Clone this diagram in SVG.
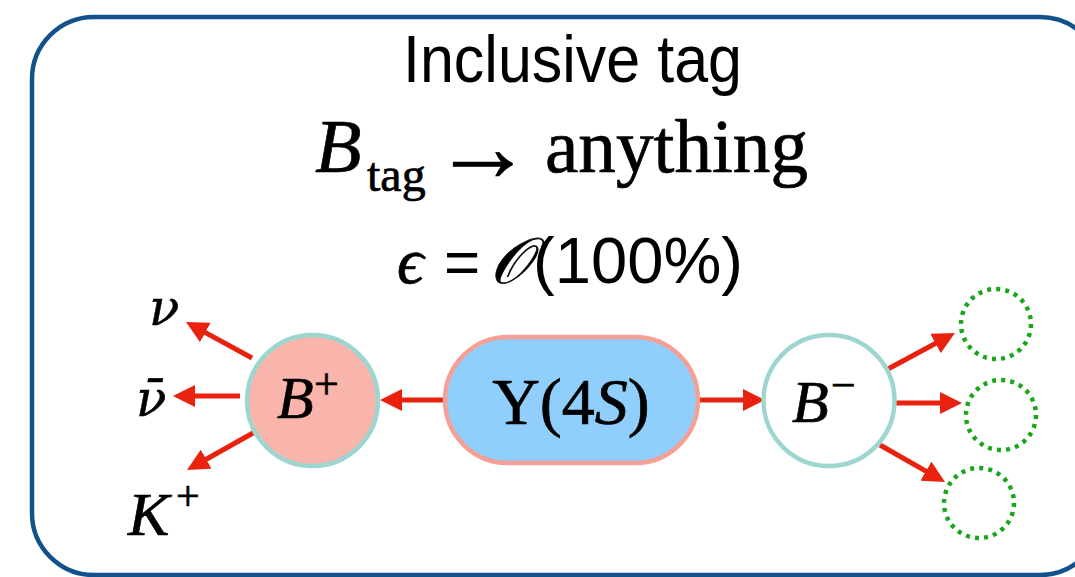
<svg xmlns="http://www.w3.org/2000/svg" width="1075" height="577" viewBox="0 0 1075 577">
  <defs>
    <marker id="ah" markerUnits="userSpaceOnUse" markerWidth="22" markerHeight="22" refX="4" refY="11" orient="auto">
      <path d="M0,0 L22,11 L0,22 Z" fill="#e8220f"/>
    </marker>
    <style>
      .serif { font-family: "Liberation Serif", "DejaVu Serif", serif; fill: #000; stroke: #000; stroke-width: 0.7; }
      .greek { font-family: "DejaVu Serif", "Liberation Serif", serif; fill: #000; stroke: #000; stroke-width: 0.5; }
      .sans { font-family: "Liberation Sans", "DejaVu Sans", sans-serif; fill: #000; }
      .it { font-style: italic; }
      .conn { stroke: #e8220f; stroke-width: 5; fill: none; marker-end: url(#ah); }
      .teal { stroke: #9dd6d0; stroke-width: 4.5; }
      .dotted { fill: none; stroke: #19a619; stroke-width: 4.5; stroke-dasharray: 4 5.16; }
    </style>
  </defs>
  <rect width="1075" height="577" fill="#fff"/>
  <g id="frame">
    <rect x="32" y="17" width="1070" height="558" rx="62" ry="62" fill="none" stroke="#11528a" stroke-width="4.5"/>
  </g>
  <g id="title">
    <text class="sans" x="403" y="82" font-size="66" textLength="339" lengthAdjust="spacingAndGlyphs">Inclusive tag</text>
    <text class="serif it" x="315" y="172" font-size="76">B</text>
    <text class="serif" x="367" y="191" font-size="48">tag</text>
    <text class="serif" x="483" y="181" font-size="100" text-anchor="middle">→</text>
    <text class="serif" x="545" y="172" font-size="76" textLength="263" lengthAdjust="spacingAndGlyphs">anything</text>
    <text class="serif it" x="397" y="283" font-size="66">ϵ</text>
    <text class="sans" x="444" y="283" font-size="62">=</text>
    <text class="serif it" x="490" y="283" font-size="64" stroke-width="0">𝒪</text>
    <text class="sans" x="533" y="283" font-size="64" textLength="210" lengthAdjust="spacingAndGlyphs">(100%)</text>
  </g>
  <g id="connectors">
    <line class="conn" x1="445" y1="400" x2="398" y2="400"/>
    <line class="conn" x1="698" y1="400" x2="747" y2="400"/>
    <line class="conn" x1="252" y1="358" x2="201.8" y2="330.6"/>
    <line class="conn" x1="240" y1="396" x2="191" y2="396"/>
    <line class="conn" x1="253" y1="433" x2="202.7" y2="461.2"/>
    <line class="conn" x1="888" y1="369" x2="939.1" y2="341.5"/>
    <line class="conn" x1="895" y1="403" x2="944" y2="403"/>
    <line class="conn" x1="880" y1="445" x2="929.4" y2="473.1"/>
  </g>
  <g id="node-Bplus">
    <circle class="teal" cx="312.5" cy="400.5" r="65.5" fill="#f9b5ab"/>
    <text class="serif it" x="277" y="418" font-size="60">B</text>
    <text class="serif" x="314" y="399" font-size="44">+</text>
  </g>
  <g id="node-Y4S">
    <rect x="445" y="337" width="253" height="126" rx="63" ry="63" fill="#90cefb" stroke="#f5a097" stroke-width="4.5"/>
    <text class="serif" x="571" y="424" font-size="66" text-anchor="middle">Υ(4<tspan class="it">S</tspan>)</text>
  </g>
  <g id="node-Bminus">
    <circle class="teal" cx="829" cy="400.5" r="65.5" fill="#fff"/>
    <text class="serif it" x="792" y="422" font-size="60">B</text>
    <text class="serif" x="831" y="400" font-size="44">−</text>
  </g>
  <g id="node-nu">
    <text class="greek it" x="149" y="325" font-size="50">ν</text>
  </g>
  <g id="node-nubar">
    <text class="greek it" x="136" y="416" font-size="50">ν̄</text>
  </g>
  <g id="node-Kplus">
    <text class="serif it" x="128" y="535" font-size="62">K</text>
    <text class="serif" x="176" y="510" font-size="42">+</text>
  </g>
  <g id="node-x1">
    <circle class="dotted" cx="996" cy="324" r="35"/>
  </g>
  <g id="node-x2">
    <circle class="dotted" cx="1001" cy="415" r="35"/>
  </g>
  <g id="node-x3">
    <circle class="dotted" cx="979" cy="503" r="35"/>
  </g>
</svg>
